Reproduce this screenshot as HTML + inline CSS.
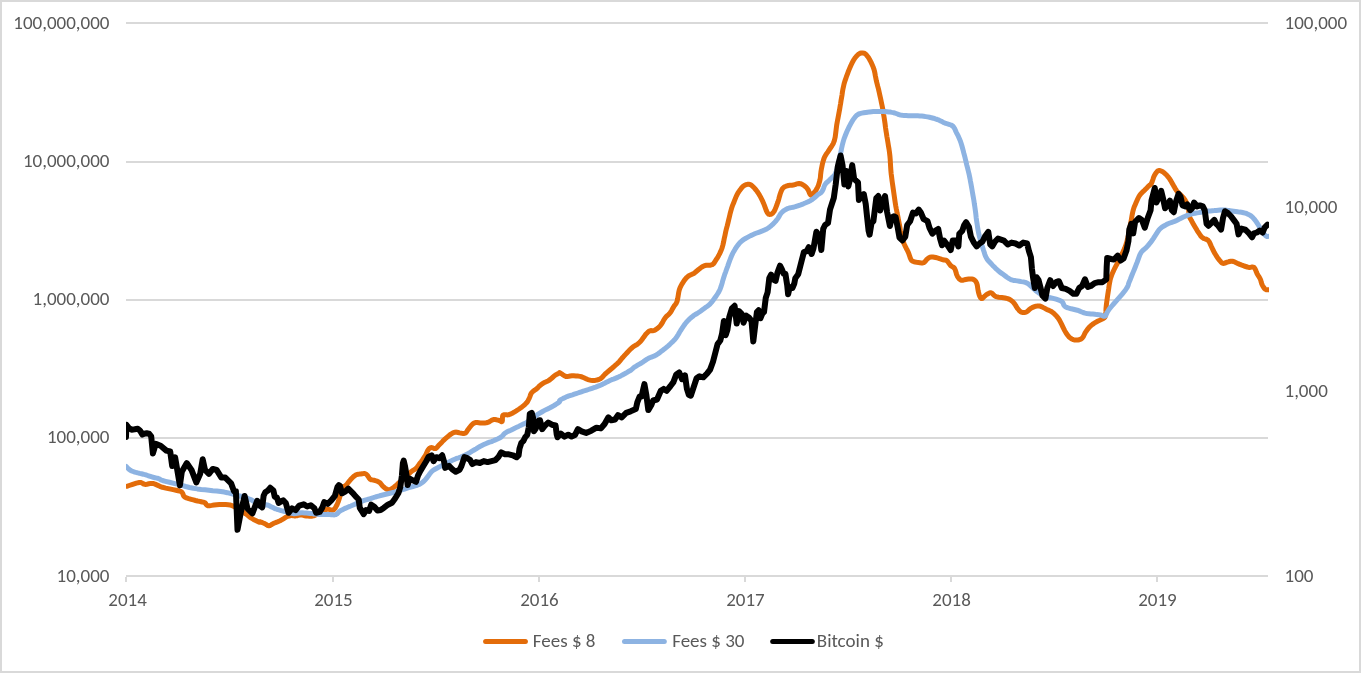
<!DOCTYPE html>
<html><head><meta charset="utf-8"><title>Chart</title>
<style>html,body{margin:0;padding:0;background:#fff;}body{width:1361px;height:673px;overflow:hidden;}svg{display:block;}</style>
</head><body>
<svg width="1361" height="673" viewBox="0 0 1361 673">
<rect x="0" y="0" width="1361" height="673" fill="#fff"/>
<rect x="1" y="1" width="1359" height="671" fill="none" stroke="#D9D9D9" stroke-width="2"/>
<rect x="126" y="22" width="1142" height="2" fill="#D9D9D9"/><rect x="126" y="161" width="1142" height="2" fill="#D9D9D9"/><rect x="126" y="299" width="1142" height="2" fill="#D9D9D9"/><rect x="126" y="437" width="1142" height="2" fill="#D9D9D9"/><rect x="126" y="575" width="1142" height="2" fill="#D9D9D9"/><rect x="125" y="577" width="2" height="5" fill="#D9D9D9"/><rect x="332" y="577" width="2" height="5" fill="#D9D9D9"/><rect x="538" y="577" width="2" height="5" fill="#D9D9D9"/><rect x="744" y="577" width="2" height="5" fill="#D9D9D9"/><rect x="950" y="577" width="2" height="5" fill="#D9D9D9"/><rect x="1156" y="577" width="2" height="5" fill="#D9D9D9"/>
<g font-family="Carlito, 'Liberation Sans', sans-serif" font-size="19" fill="#595959"><text x="109.5" y="28.6" text-anchor="end" textLength="96.16" lengthAdjust="spacingAndGlyphs">100,000,000</text><text x="109.5" y="166.9" text-anchor="end" textLength="86.53" lengthAdjust="spacingAndGlyphs">10,000,000</text><text x="109.5" y="304.7" text-anchor="end" textLength="76.89" lengthAdjust="spacingAndGlyphs">1,000,000</text><text x="109.5" y="443.1" text-anchor="end" textLength="62.53" lengthAdjust="spacingAndGlyphs">100,000</text><text x="109.5" y="581.8" text-anchor="end" textLength="52.89" lengthAdjust="spacingAndGlyphs">10,000</text><text x="1284.5" y="28.6" textLength="62.53" lengthAdjust="spacingAndGlyphs">100,000</text><text x="1284.5" y="212.8" textLength="52.89" lengthAdjust="spacingAndGlyphs">10,000</text><text x="1284.5" y="396.8" textLength="43.27" lengthAdjust="spacingAndGlyphs">1,000</text><text x="1284.5" y="581.8" textLength="28.89" lengthAdjust="spacingAndGlyphs">100</text><text x="127.6" y="606" text-anchor="middle" textLength="38.53" lengthAdjust="spacingAndGlyphs">2014</text><text x="333.5" y="606" text-anchor="middle" textLength="38.53" lengthAdjust="spacingAndGlyphs">2015</text><text x="539.4" y="606" text-anchor="middle" textLength="38.53" lengthAdjust="spacingAndGlyphs">2016</text><text x="745.4" y="606" text-anchor="middle" textLength="38.53" lengthAdjust="spacingAndGlyphs">2017</text><text x="951.6" y="606" text-anchor="middle" textLength="38.53" lengthAdjust="spacingAndGlyphs">2018</text><text x="1157.5" y="606" text-anchor="middle" textLength="38.53" lengthAdjust="spacingAndGlyphs">2019</text><line x1="485.6" y1="641.5" x2="525.4" y2="641.5" stroke="#E36C0A" stroke-width="5" stroke-linecap="round"/><text x="532.8" y="647" textLength="62.64" lengthAdjust="spacingAndGlyphs">Fees $ 8</text><line x1="624.5" y1="641.5" x2="664.3" y2="641.5" stroke="#8DB3E2" stroke-width="5" stroke-linecap="round"/><text x="672.2" y="647" textLength="72.28" lengthAdjust="spacingAndGlyphs">Fees $ 30</text><line x1="772.7" y1="641.5" x2="812.3" y2="641.5" stroke="#000000" stroke-width="5" stroke-linecap="round"/><text x="816.8" y="647" textLength="67" lengthAdjust="spacingAndGlyphs">Bitcoin $</text></g>
<defs><clipPath id="pa"><rect x="126" y="0" width="1143" height="673"/></clipPath></defs>
<g clip-path="url(#pa)"><polyline fill="none" stroke="#E36C0A" stroke-width="5" stroke-linejoin="round" stroke-linecap="round" points="126.8,486.3 129.2,485.5 132.7,484.3 136.4,483.1 139.3,482.5 141.2,482.6 142.5,483.3 143.7,484.0 145.1,484.4 146.9,484.2 148.8,483.8 150.8,483.4 152.9,483.4 155.1,484.1 157.3,485.1 159.8,486.3 162.5,487.3 165.8,488.1 169.5,488.9 173.1,489.6 176.0,490.2 178.1,490.7 179.6,491.0 180.7,491.4 181.8,492.1 182.6,493.2 183.1,494.5 183.6,495.8 184.7,497.0 186.5,497.9 188.7,498.6 191.2,499.3 193.4,499.9 195.5,500.5 197.6,501.0 199.6,501.4 201.2,501.8 202.5,502.1 203.4,502.2 204.2,502.4 205.0,502.8 205.7,503.5 206.1,504.4 206.8,505.2 207.9,505.7 209.6,505.7 211.7,505.4 214.1,505.0 216.6,504.7 219.4,504.6 222.6,504.5 225.6,504.5 228.2,504.7 230.0,504.9 231.2,505.3 232.4,505.8 234.0,506.6 236.2,507.8 238.7,509.3 241.3,510.9 243.7,512.4 245.8,513.9 247.7,515.4 249.5,516.9 251.4,518.2 253.5,519.4 255.7,520.5 257.7,521.5 259.1,522.1 259.7,522.3 259.8,522.0 259.7,521.7 260.0,521.7 260.9,522.0 262.0,522.4 263.3,523.0 264.5,523.5 265.6,524.1 266.7,524.9 267.8,525.5 268.9,525.7 270.0,525.5 271.1,524.9 272.3,524.1 273.4,523.5 274.5,523.0 275.6,522.6 276.7,522.2 277.8,521.7 278.9,521.2 280.1,520.7 281.2,520.1 282.3,519.5 283.4,518.8 284.5,518.1 285.6,517.4 286.7,516.8 287.8,516.3 288.9,516.0 290.1,515.7 291.2,515.5 292.3,515.5 293.3,515.7 294.4,515.9 295.6,515.9 296.9,515.7 298.2,515.4 299.6,515.1 301.0,515.0 302.3,515.1 303.5,515.4 304.8,515.7 306.3,515.9 307.9,516.1 309.7,516.3 311.5,516.3 313.5,515.9 315.7,514.9 318.1,513.6 320.4,512.1 322.4,511.0 324.0,510.3 325.3,509.7 326.5,509.4 327.7,509.2 329.1,509.4 330.5,509.8 331.9,510.2 333.1,510.1 334.1,509.4 335.0,508.4 335.8,507.0 336.6,505.6 337.3,504.1 338.0,502.4 338.6,500.6 339.3,498.5 340.0,496.0 340.6,493.1 341.3,490.3 342.1,488.1 343.0,486.9 344.1,486.2 345.1,485.8 346.2,485.0 347.2,483.8 348.2,482.5 349.3,481.1 350.4,479.8 351.6,478.5 352.9,477.2 354.3,476.0 355.6,475.1 356.9,474.5 358.2,474.3 359.5,474.1 360.8,474.0 362.1,473.8 363.5,473.6 364.8,473.6 366.0,474.0 367.1,475.0 368.2,476.5 369.2,478.1 370.2,479.2 371.2,479.7 372.2,479.9 373.2,480.1 374.3,480.3 375.5,480.7 376.9,481.1 378.2,481.7 379.5,482.4 380.6,483.4 381.6,484.7 382.6,486.0 383.7,487.1 384.9,488.0 386.2,488.9 387.6,489.5 388.9,489.7 390.2,489.5 391.5,488.9 392.8,488.0 394.1,487.1 395.4,486.1 396.7,484.9 398.0,483.6 399.3,482.4 400.6,481.4 401.8,480.4 403.1,479.4 404.5,478.2 406.0,476.7 407.7,475.1 409.3,473.4 410.8,472.0 412.2,470.9 413.5,470.1 414.8,469.3 416.0,468.3 417.1,467.2 418.0,465.9 419.0,464.6 420.1,463.1 421.4,461.4 422.8,459.4 424.1,457.4 425.3,455.6 426.2,453.9 427.0,452.1 427.7,450.6 428.4,449.4 429.2,448.6 429.9,448.0 430.7,447.7 431.6,447.6 432.5,447.8 433.5,448.2 434.5,448.6 435.5,448.6 436.4,448.0 437.3,447.1 438.2,445.9 439.3,444.7 440.6,443.4 442.1,441.9 443.6,440.3 445.1,438.9 446.6,437.6 448.1,436.3 449.5,435.1 450.9,434.1 452.2,433.3 453.4,432.7 454.5,432.3 455.7,432.1 456.9,432.2 458.1,432.5 459.4,432.9 460.6,433.1 461.9,433.3 463.1,433.4 464.3,433.4 465.4,433.1 466.2,432.4 466.9,431.4 467.5,430.3 468.3,429.2 469.2,428.0 470.2,426.7 471.2,425.4 472.2,424.4 473.1,423.7 474.0,423.1 474.9,422.7 476.0,422.5 477.3,422.5 478.8,422.7 480.3,422.9 481.8,423.0 483.2,423.0 484.7,423.0 486.2,422.8 487.6,422.5 489.1,421.9 490.5,421.0 491.9,420.1 493.4,419.6 494.9,419.6 496.5,419.8 498.0,420.2 499.2,420.5 500.2,420.9 501.0,421.4 501.6,421.7 502.1,421.5 502.4,420.4 502.4,418.7 502.5,417.0 502.7,415.7 503.1,415.1 503.6,414.8 504.3,414.8 505.0,414.7 505.8,414.7 506.7,414.8 507.8,414.9 508.9,414.7 510.2,414.2 511.7,413.5 513.2,412.7 514.7,411.8 516.2,410.9 517.6,410.0 519.1,409.0 520.5,408.0 522.0,406.9 523.6,405.6 525.1,404.3 526.3,403.1 527.3,401.9 528.0,400.7 528.6,399.5 529.2,398.3 529.7,397.1 530.2,395.8 530.6,394.6 531.1,393.5 531.8,392.6 532.5,391.9 533.3,391.2 534.0,390.6 534.7,390.1 535.5,389.6 536.2,389.1 536.9,388.6 537.6,387.9 538.3,387.2 539.0,386.4 539.8,385.7 540.7,385.0 541.6,384.3 542.6,383.6 543.7,382.9 545.0,382.2 546.5,381.6 548.0,380.9 549.5,380.0 551.0,378.8 552.5,377.5 554.0,376.2 555.3,375.1 556.5,374.4 557.5,373.9 558.4,373.5 559.1,373.2 559.4,372.9 559.4,372.7 559.5,372.6 560.0,372.8 561.1,373.5 562.6,374.6 564.3,375.7 565.9,376.4 567.3,376.5 568.8,376.3 570.2,376.0 571.9,375.8 573.8,375.8 576.0,375.9 578.2,376.1 580.2,376.4 582.1,377.0 583.9,377.8 585.6,378.6 587.3,379.3 588.9,379.8 590.3,380.2 591.7,380.4 593.3,380.5 595.1,380.4 596.9,380.0 598.8,379.5 600.4,378.8 601.7,377.8 602.8,376.7 603.9,375.4 605.2,374.0 606.8,372.6 608.7,371.0 610.5,369.5 612.3,368.0 613.9,366.6 615.5,365.2 617.0,363.9 618.3,362.7 619.3,361.6 620.1,360.6 620.9,359.6 621.8,358.5 622.9,357.3 624.0,356.0 625.3,354.6 626.6,353.2 628.0,351.7 629.6,350.1 631.1,348.6 632.5,347.3 633.8,346.4 635.0,345.7 636.2,345.0 637.3,344.3 638.4,343.4 639.4,342.5 640.4,341.5 641.4,340.4 642.4,339.0 643.5,337.4 644.6,335.9 645.6,334.5 646.6,333.4 647.6,332.4 648.6,331.5 649.7,330.9 650.8,330.6 652.0,330.7 653.2,330.7 654.5,330.3 655.9,329.5 657.5,328.4 659.0,327.1 660.4,325.6 661.7,323.8 662.9,321.7 664.0,319.6 665.2,317.8 666.4,316.4 667.6,315.3 668.8,314.3 669.9,313.1 670.9,311.7 671.8,310.2 672.6,308.6 673.5,307.1 674.4,305.7 675.4,304.5 676.3,303.1 677.1,301.2 677.7,298.6 678.2,295.6 678.7,292.5 679.3,289.8 680.1,287.6 681.1,285.6 682.1,283.8 683.2,282.1 684.3,280.4 685.5,278.9 686.7,277.5 688.0,276.3 689.4,275.4 690.9,274.7 692.4,274.1 693.8,273.4 695.0,272.5 696.2,271.5 697.4,270.5 698.6,269.5 699.9,268.5 701.3,267.4 702.8,266.5 704.4,265.7 706.3,265.3 708.4,265.3 710.5,265.2 712.2,264.7 713.4,263.8 714.3,262.7 715.1,261.3 716.0,259.9 717.0,258.4 718.0,256.7 719.0,254.9 719.9,253.1 720.7,251.4 721.4,249.7 722.1,247.8 722.8,245.4 723.5,242.4 724.2,238.8 725.0,235.2 725.7,231.8 726.4,228.8 727.2,225.9 727.9,223.1 728.6,220.2 729.3,217.2 730.0,214.2 730.8,211.2 731.5,208.6 732.2,206.4 733.0,204.4 733.7,202.7 734.4,200.9 735.1,199.1 735.8,197.4 736.5,195.8 737.3,194.2 738.2,192.6 739.2,191.1 740.2,189.7 741.2,188.4 742.1,187.3 743.0,186.4 744.0,185.7 745.0,185.1 746.1,184.7 747.4,184.3 748.7,184.3 749.9,184.5 751.1,185.1 752.3,186.0 753.5,187.1 754.7,188.4 755.9,189.9 757.2,191.5 758.4,193.3 759.5,195.1 760.5,196.9 761.5,198.8 762.5,200.8 763.4,202.9 764.4,205.4 765.4,208.1 766.3,210.6 767.2,212.5 768.0,213.6 768.6,214.2 769.3,214.4 770.1,214.4 771.0,214.2 772.0,213.7 773.0,212.8 774.0,211.5 775.0,209.6 776.0,207.1 777.0,204.5 777.9,201.9 778.7,199.4 779.4,196.7 780.1,194.3 780.8,192.2 781.5,190.6 782.1,189.3 782.8,188.3 783.7,187.4 784.8,186.7 786.0,186.2 787.3,185.8 788.5,185.5 789.7,185.3 790.8,185.3 792.0,185.2 793.3,185.1 794.7,184.7 796.2,184.1 797.7,183.7 799.1,183.5 800.4,183.7 801.7,184.2 802.9,184.8 804.0,185.5 805.0,186.3 806.0,187.2 806.9,188.2 807.8,189.3 808.6,190.8 809.3,192.6 810.0,194.1 810.7,195.1 811.4,195.3 812.1,194.9 812.8,194.1 813.6,193.2 814.5,192.1 815.6,190.7 816.6,189.1 817.5,187.4 818.3,185.7 818.9,183.8 819.5,181.8 820.0,179.7 820.4,177.4 820.6,174.8 820.9,172.2 821.3,169.5 821.9,166.6 822.5,163.6 823.3,160.6 824.2,157.9 825.3,155.7 826.4,153.9 827.7,152.1 829.0,150.1 830.4,148.0 831.9,145.8 833.3,143.4 834.4,140.5 835.2,137.0 835.7,133.1 836.2,129.0 836.7,125.0 837.4,121.1 838.2,117.1 838.9,113.2 839.6,109.6 840.1,106.4 840.6,103.6 841.0,100.8 841.5,98.0 842.0,95.1 842.4,92.1 842.9,89.2 843.5,86.4 844.1,83.8 844.8,81.4 845.6,79.1 846.4,76.7 847.3,74.3 848.2,71.8 849.2,69.4 850.2,67.1 851.1,65.0 852.1,62.9 853.1,61.0 854.1,59.3 855.2,57.7 856.4,56.2 857.7,54.9 858.9,53.9 860.1,53.3 861.4,53.0 862.6,52.9 863.8,53.1 864.8,53.6 865.8,54.3 866.7,55.2 867.6,56.4 868.6,57.8 869.6,59.5 870.6,61.4 871.5,63.2 872.3,65.0 873.1,66.9 873.8,68.8 874.4,70.9 874.9,73.1 875.3,75.5 875.8,78.0 876.3,80.6 877.0,83.3 877.7,86.2 878.5,89.1 879.2,92.2 879.9,95.5 880.7,99.0 881.4,102.4 882.1,105.7 882.7,108.7 883.2,111.5 883.6,114.3 884.1,117.3 884.6,120.6 885.1,124.1 885.5,127.5 886.0,130.8 886.5,133.8 886.9,136.6 887.4,139.4 887.9,142.4 888.4,145.6 889.0,149.0 889.5,152.5 889.9,155.9 890.2,159.4 890.4,163.0 890.6,166.4 890.8,169.5 891.0,172.0 891.2,174.1 891.5,176.1 891.8,178.6 892.2,181.7 892.7,185.1 893.2,188.7 893.7,192.2 894.2,195.7 894.7,199.2 895.2,202.6 895.7,205.7 896.2,208.4 896.7,210.8 897.1,213.1 897.6,215.4 898.1,217.8 898.5,220.1 899.0,222.5 899.5,225.0 900.0,227.9 900.4,230.9 900.9,233.9 901.4,236.6 902.0,238.8 902.7,240.7 903.5,242.5 904.3,244.3 905.2,246.2 906.2,248.2 907.3,250.2 908.2,252.1 909.0,254.2 909.7,256.3 910.4,258.3 911.1,259.8 911.8,260.7 912.4,261.2 913.1,261.4 914.0,261.7 915.3,262.0 916.8,262.3 918.4,262.5 919.8,262.7 920.9,262.9 921.9,263.0 922.8,263.0 923.7,262.7 924.7,262.0 925.6,260.9 926.5,259.7 927.5,258.8 928.4,258.1 929.3,257.5 930.3,257.1 931.4,256.9 932.7,256.9 934.2,257.2 935.7,257.5 937.2,257.9 938.7,258.3 940.2,258.8 941.7,259.4 943.0,259.8 944.1,260.0 945.1,260.1 946.0,260.3 946.9,260.8 947.9,261.8 948.8,263.1 949.7,264.4 950.7,265.6 951.7,266.3 952.7,266.9 953.7,267.5 954.6,268.5 955.4,270.2 956.0,272.3 956.6,274.5 957.4,276.3 958.3,277.7 959.2,278.8 960.2,279.7 961.3,280.2 962.6,280.3 964.1,279.9 965.6,279.5 967.1,279.2 968.6,279.0 970.1,278.9 971.6,278.9 972.9,279.2 974.0,279.8 975.0,280.5 975.9,281.6 976.7,283.1 977.3,285.2 977.7,287.8 978.1,290.5 978.6,292.8 979.2,294.8 979.9,296.6 980.6,297.9 981.5,298.6 982.6,298.3 983.8,297.1 985.1,295.8 986.4,294.7 987.6,294.0 988.8,293.3 990.0,292.8 991.2,292.8 992.2,293.4 993.2,294.5 994.3,295.6 996.0,296.6 998.6,297.2 1001.8,297.6 1005.0,298.0 1007.7,298.6 1009.6,299.4 1011.1,300.3 1012.3,301.3 1013.5,302.5 1014.6,303.9 1015.6,305.4 1016.5,306.9 1017.4,308.3 1018.4,309.5 1019.3,310.6 1020.3,311.5 1021.3,312.1 1022.4,312.5 1023.6,312.6 1024.9,312.5 1026.1,312.1 1027.3,311.4 1028.5,310.3 1029.7,309.2 1030.9,308.3 1032.1,307.6 1033.3,307.1 1034.5,306.6 1035.7,306.3 1036.9,306.1 1038.1,306.0 1039.3,306.0 1040.6,306.3 1042.0,306.8 1043.4,307.6 1044.9,308.4 1046.4,309.2 1047.9,309.9 1049.3,310.5 1050.8,311.2 1052.2,312.1 1053.7,313.3 1055.2,314.8 1056.7,316.3 1058.0,317.9 1059.1,319.5 1060.0,321.2 1060.9,322.9 1061.8,324.7 1062.7,326.6 1063.7,328.6 1064.7,330.6 1065.7,332.4 1066.8,334.1 1068.0,335.7 1069.2,337.1 1070.5,338.2 1071.9,339.0 1073.3,339.6 1074.8,340.0 1076.3,340.1 1077.8,340.0 1079.3,339.7 1080.8,339.1 1082.1,338.2 1083.2,336.8 1084.1,335.0 1085.0,333.1 1086.0,331.4 1087.1,329.9 1088.3,328.4 1089.5,327.0 1090.8,325.7 1092.2,324.6 1093.6,323.6 1095.1,322.7 1096.6,321.8 1098.1,321.0 1099.7,320.3 1101.2,319.6 1102.4,318.9 1103.4,318.4 1104.2,317.9 1104.8,317.3 1105.3,316.0 1105.7,314.0 1105.9,311.4 1106.0,308.4 1106.3,305.4 1106.7,302.2 1107.2,298.7 1107.7,295.1 1108.2,291.8 1108.7,288.7 1109.1,285.7 1109.6,282.8 1110.1,280.2 1110.7,277.9 1111.4,275.9 1112.1,274.0 1112.9,272.1 1113.8,270.2 1114.7,268.3 1115.7,266.4 1116.8,264.3 1118.0,262.0 1119.2,259.6 1120.4,257.1 1121.6,254.7 1122.7,252.5 1123.7,250.4 1124.6,248.3 1125.5,246.0 1126.3,243.6 1127.0,241.1 1127.7,238.4 1128.4,235.4 1129.1,231.7 1129.9,227.6 1130.6,223.5 1131.3,219.9 1131.8,217.0 1132.2,214.6 1132.7,212.3 1133.2,210.2 1133.8,208.1 1134.5,206.2 1135.3,204.4 1136.1,202.5 1137.0,200.5 1137.9,198.5 1138.9,196.5 1140.0,194.8 1141.2,193.4 1142.4,192.2 1143.6,191.1 1144.8,190.0 1145.8,188.9 1146.8,187.9 1147.7,187.0 1148.6,186.1 1149.4,185.4 1150.1,184.9 1150.8,184.2 1151.5,183.2 1152.2,181.5 1152.9,179.5 1153.6,177.3 1154.4,175.5 1155.3,173.9 1156.3,172.5 1157.3,171.3 1158.3,170.6 1159.3,170.4 1160.3,170.6 1161.2,171.1 1162.2,171.6 1163.2,172.1 1164.1,172.8 1165.0,173.6 1166.0,174.5 1167.0,175.5 1167.9,176.7 1168.9,177.9 1169.9,179.3 1170.9,180.9 1171.9,182.7 1172.9,184.5 1173.8,186.1 1174.6,187.4 1175.2,188.6 1175.9,189.7 1176.7,190.9 1177.8,192.1 1179.0,193.3 1180.3,194.5 1181.5,195.7 1182.6,196.9 1183.6,198.0 1184.5,199.2 1185.4,200.6 1186.2,202.1 1187.0,203.7 1187.7,205.4 1188.3,207.3 1188.6,209.4 1188.8,211.7 1188.9,214.0 1189.2,216.0 1189.8,217.6 1190.5,219.0 1191.3,220.3 1192.1,221.8 1193.0,223.4 1193.9,225.0 1194.9,226.7 1196.0,228.6 1197.3,230.8 1198.9,233.2 1200.4,235.5 1202.0,237.3 1203.6,238.4 1205.3,239.0 1206.9,239.5 1208.2,240.4 1209.2,241.7 1210.0,243.3 1210.7,245.0 1211.4,246.6 1212.2,248.2 1212.9,249.8 1213.7,251.3 1214.5,252.9 1215.5,254.5 1216.5,256.1 1217.5,257.7 1218.6,259.1 1219.6,260.4 1220.7,261.7 1221.7,262.7 1222.8,263.3 1223.8,263.4 1224.8,263.1 1225.9,262.6 1227.0,262.2 1228.2,261.9 1229.5,261.5 1230.9,261.2 1232.2,261.2 1233.5,261.5 1234.8,262.1 1236.1,262.7 1237.4,263.3 1238.7,263.8 1239.9,264.4 1241.2,264.9 1242.6,265.4 1244.1,266.0 1245.7,266.5 1247.3,267.0 1248.8,267.4 1250.2,267.4 1251.6,267.1 1252.9,267.0 1254.0,267.4 1254.9,268.6 1255.7,270.2 1256.4,272.1 1257.1,273.7 1257.9,275.1 1258.7,276.3 1259.5,277.6 1260.2,278.9 1260.8,280.4 1261.2,282.1 1261.7,283.7 1262.3,285.1 1263.0,286.4 1263.8,287.6 1264.6,288.6 1265.4,289.3 1266.3,289.7 1267.2,289.8 1268.0,289.8 1268.6,289.8"/><polyline fill="none" stroke="#8DB3E2" stroke-width="5" stroke-linejoin="round" stroke-linecap="round" points="126.0,466.3 126.5,466.8 127.1,467.4 127.8,468.2 128.5,468.8 129.0,469.3 129.6,469.7 130.1,470.1 130.7,470.5 131.4,470.9 132.2,471.2 133.1,471.5 134.0,471.8 134.9,472.1 135.9,472.4 136.8,472.6 137.8,472.9 138.7,473.1 139.7,473.4 140.6,473.6 141.5,473.8 142.4,474.0 143.3,474.2 144.1,474.4 145.0,474.6 145.9,474.9 146.7,475.2 147.6,475.5 148.5,475.8 149.4,476.1 150.3,476.4 151.2,476.7 152.1,477.0 153.0,477.2 153.9,477.5 154.8,477.7 155.7,477.9 156.6,478.1 157.5,478.3 158.4,478.5 159.3,478.8 159.8,479.1 160.2,479.5 160.8,479.9 162.5,480.5 165.5,481.3 169.5,482.3 173.8,483.4 178.0,484.4 181.9,485.4 185.7,486.5 189.5,487.5 193.4,488.3 197.3,488.9 201.2,489.4 205.0,489.8 208.9,490.2 212.8,490.7 216.8,491.1 220.7,491.6 224.3,492.1 227.4,492.7 230.1,493.4 232.8,494.1 235.9,495.0 239.7,496.0 243.8,497.2 247.9,498.5 251.4,499.9 254.1,501.6 256.3,503.6 258.2,505.4 260.0,506.5 261.6,506.6 263.0,506.0 264.2,505.2 265.3,504.8 266.3,504.8 267.1,504.9 267.9,505.2 268.9,505.6 270.1,506.2 271.5,506.9 272.9,507.6 274.3,508.3 275.6,508.8 276.8,509.3 278.2,509.7 279.6,510.1 281.2,510.6 283.0,511.0 284.9,511.5 286.7,511.9 288.5,512.4 290.3,513.0 292.1,513.4 293.9,513.7 295.7,513.6 297.5,513.3 299.2,513.0 301.0,512.8 302.8,512.8 304.5,512.9 306.3,513.0 308.1,513.2 309.9,513.4 311.7,513.6 313.5,513.9 315.3,514.1 317.1,514.3 318.9,514.4 320.6,514.5 322.4,514.6 324.2,514.6 326.0,514.6 327.8,514.6 329.5,514.6 331.2,514.7 332.8,514.8 334.4,514.9 335.8,514.6 337.0,513.9 337.9,513.0 338.9,511.9 340.0,511.0 341.4,510.2 343.0,509.4 344.6,508.6 346.2,507.9 347.7,507.2 349.2,506.6 350.8,506.0 352.5,505.3 354.4,504.4 356.5,503.4 358.7,502.5 360.8,501.6 362.9,500.9 364.9,500.2 367.0,499.6 369.1,499.0 371.2,498.3 373.3,497.7 375.4,497.0 377.5,496.4 379.6,495.8 381.7,495.3 383.7,494.8 385.8,494.3 387.9,493.8 390.0,493.3 392.0,492.8 394.1,492.3 396.2,491.7 398.2,491.0 400.3,490.4 402.4,489.7 404.5,489.1 406.6,488.4 408.7,487.7 410.8,487.1 412.9,486.5 415.1,485.9 417.2,485.3 419.1,484.5 420.8,483.6 422.3,482.5 423.8,481.3 425.3,479.8 426.8,477.9 428.4,475.8 429.9,473.6 431.6,471.7 433.4,470.2 435.4,469.0 437.3,468.0 439.3,466.9 441.2,465.9 443.2,464.9 445.2,463.9 447.1,463.0 449.0,462.0 451.0,461.0 452.9,460.1 454.8,459.2 456.7,458.4 458.6,457.8 460.6,457.1 462.5,456.3 464.4,455.4 466.3,454.5 468.3,453.5 470.2,452.4 472.1,451.2 474.1,450.0 476.1,448.8 478.0,447.6 479.9,446.5 481.9,445.5 483.8,444.6 485.7,443.7 487.6,442.9 489.5,442.2 491.5,441.6 493.4,440.8 495.4,439.9 497.5,439.0 499.5,438.0 501.2,437.0 502.3,436.0 503.1,435.1 503.9,434.1 505.0,433.1 506.7,432.1 508.7,431.1 510.8,430.2 512.8,429.2 514.7,428.2 516.7,427.3 518.6,426.4 520.5,425.4 522.4,424.5 524.4,423.6 526.3,422.6 528.2,421.5 530.1,420.2 532.0,418.7 534.0,417.1 535.9,415.7 537.8,414.4 539.8,413.2 541.8,412.0 543.7,410.9 545.6,409.9 547.6,408.9 549.5,408.0 551.4,407.0 553.5,405.8 555.7,404.5 557.7,403.2 559.1,402.2 559.7,401.5 559.6,401.1 559.5,400.7 560.0,400.2 561.3,399.4 563.2,398.4 565.2,397.5 567.1,396.6 568.9,395.9 570.7,395.3 572.5,394.8 574.3,394.2 576.1,393.6 577.9,393.0 579.6,392.4 581.4,391.8 583.2,391.2 584.9,390.7 586.7,390.1 588.5,389.5 590.3,388.9 592.1,388.3 593.9,387.7 595.7,387.1 597.5,386.4 599.3,385.7 601.0,384.9 602.8,384.1 604.6,383.2 606.3,382.3 608.1,381.4 609.9,380.5 611.7,379.7 613.5,379.1 615.3,378.4 617.1,377.6 618.9,376.8 620.7,375.9 622.4,375.0 624.2,374.0 626.1,373.0 628.0,371.8 629.8,370.8 631.3,369.8 632.2,369.1 632.8,368.5 633.4,367.9 634.3,367.2 635.8,366.3 637.6,365.2 639.5,364.1 641.4,363.0 643.2,361.8 644.9,360.6 646.7,359.4 648.5,358.3 650.3,357.5 652.1,356.8 653.9,356.2 655.7,355.3 657.5,354.2 659.3,352.9 661.0,351.6 662.8,350.2 664.6,348.8 666.4,347.3 668.2,345.8 669.9,344.3 671.5,342.8 673.0,341.4 674.5,339.8 675.9,338.2 677.1,336.4 678.3,334.5 679.4,332.5 680.6,330.5 682.0,328.4 683.5,326.2 685.0,324.0 686.6,322.0 688.4,320.1 690.3,318.3 692.2,316.8 693.7,315.5 694.7,314.8 695.4,314.4 696.1,314.1 697.1,313.5 698.6,312.5 700.5,311.2 702.4,309.8 704.2,308.5 705.8,307.3 707.4,306.2 708.8,305.1 710.2,303.8 711.5,302.4 712.6,301.0 713.7,299.5 714.9,297.8 716.2,296.0 717.5,294.0 718.8,291.9 720.0,289.5 721.0,286.7 722.0,283.5 722.9,280.2 723.8,277.2 724.7,274.4 725.7,271.8 726.6,269.2 727.6,266.6 728.5,263.9 729.5,261.2 730.5,258.5 731.5,256.0 732.6,253.6 733.8,251.4 735.1,249.2 736.3,247.3 737.5,245.6 738.7,244.1 739.9,242.7 741.2,241.5 742.5,240.4 743.9,239.4 745.4,238.5 747.0,237.6 748.8,236.6 750.7,235.6 752.7,234.7 754.7,233.8 756.7,233.0 758.7,232.3 760.6,231.6 762.4,230.9 764.0,230.2 765.4,229.6 766.8,228.9 768.2,228.0 769.7,226.9 771.2,225.7 772.7,224.4 774.0,223.1 775.1,221.9 776.1,220.8 777.0,219.6 777.9,218.3 778.8,216.9 779.7,215.3 780.6,213.8 781.7,212.5 783.0,211.3 784.4,210.3 785.9,209.4 787.5,208.6 789.2,208.0 791.1,207.6 793.1,207.3 795.3,206.7 797.8,205.8 800.7,204.8 803.4,203.8 805.8,202.8 807.6,202.0 809.0,201.4 810.3,200.7 811.6,199.9 813.1,198.8 814.6,197.6 816.0,196.3 817.4,195.1 818.7,194.1 820.0,193.3 821.2,192.4 822.2,191.2 823.0,189.6 823.7,187.8 824.3,186.0 825.1,184.4 826.0,183.2 827.0,182.3 828.0,181.5 829.0,180.6 830.0,179.6 831.0,178.6 832.0,177.7 832.9,176.7 833.7,175.9 834.4,175.2 835.0,174.3 835.7,172.9 836.4,171.1 837.1,169.0 837.8,166.4 838.6,163.2 839.5,158.9 840.5,153.9 841.5,148.7 842.5,144.3 843.4,140.9 844.3,138.1 845.3,135.5 846.4,132.8 847.7,129.8 849.2,126.7 850.7,123.8 852.2,121.2 853.6,119.0 855.0,117.2 856.4,115.6 858.0,114.4 859.8,113.6 861.7,113.1 863.7,112.8 865.7,112.5 867.6,112.2 869.5,111.9 871.5,111.7 873.4,111.5 875.3,111.4 877.3,111.4 879.3,111.4 881.2,111.5 883.2,111.6 885.2,111.6 887.1,111.7 888.9,111.9 890.5,112.1 891.9,112.4 893.3,112.6 894.7,113.0 896.1,113.5 897.5,114.0 898.9,114.6 900.5,115.0 902.3,115.3 904.2,115.5 906.2,115.6 908.2,115.7 910.1,115.7 912.0,115.7 914.0,115.7 915.9,115.7 917.8,115.8 919.8,115.9 921.8,116.1 923.7,116.3 925.6,116.6 927.6,116.9 929.5,117.3 931.4,117.7 933.4,118.2 935.4,118.9 937.3,119.5 939.1,120.2 940.6,120.9 942.0,121.6 943.4,122.4 944.9,123.1 946.8,123.7 948.9,124.3 951.0,125.0 952.7,126.0 953.9,127.4 954.9,129.1 955.6,130.9 956.5,132.8 957.5,134.7 958.5,136.7 959.4,138.7 960.3,140.9 961.1,143.2 961.8,145.5 962.5,148.0 963.2,150.6 963.9,153.4 964.7,156.3 965.4,159.3 966.1,162.2 966.8,165.1 967.6,168.1 968.3,171.0 969.0,173.8 969.5,176.3 970.0,178.6 970.4,180.9 970.9,183.4 971.4,186.2 971.9,189.1 972.4,192.1 972.9,195.0 973.4,197.8 973.9,200.6 974.3,203.5 974.8,206.6 975.3,210.1 975.8,213.9 976.2,217.8 976.7,221.3 977.2,224.5 977.6,227.5 978.1,230.3 978.6,232.9 979.1,235.1 979.5,236.9 980.0,238.6 980.6,240.6 981.3,242.9 982.0,245.4 982.8,247.9 983.5,250.2 984.2,252.3 984.8,254.3 985.5,256.2 986.4,258.0 987.4,259.6 988.6,261.0 989.8,262.3 991.2,263.8 992.7,265.4 994.4,267.1 996.2,268.9 998.0,270.5 999.9,272.1 1002.0,273.6 1004.0,275.1 1005.8,276.4 1007.3,277.5 1008.7,278.4 1010.1,279.2 1011.6,279.9 1013.4,280.4 1015.3,280.6 1017.3,280.9 1019.3,281.2 1021.3,281.6 1023.3,281.9 1025.3,282.4 1027.1,283.1 1028.7,284.1 1030.1,285.4 1031.5,286.7 1032.9,288.0 1034.3,289.2 1035.6,290.5 1037.0,291.7 1038.6,292.8 1040.4,293.9 1042.4,294.9 1044.4,295.9 1046.4,296.7 1048.3,297.3 1050.3,297.7 1052.2,298.1 1054.1,298.6 1056.1,299.2 1058.2,299.9 1060.2,300.6 1061.8,301.5 1062.8,302.6 1063.4,304.0 1063.9,305.3 1064.7,306.3 1065.7,307.0 1066.8,307.5 1068.1,307.9 1069.6,308.3 1071.3,308.8 1073.3,309.2 1075.3,309.7 1077.3,310.2 1079.2,310.9 1081.1,311.7 1083.1,312.5 1085.0,313.1 1086.9,313.5 1088.9,313.7 1090.9,313.9 1092.8,314.1 1094.8,314.3 1096.8,314.6 1098.8,314.8 1100.5,315.0 1101.9,315.4 1103.1,316.0 1104.2,316.3 1105.3,316.0 1106.0,315.1 1106.5,313.9 1107.4,312.0 1109.2,309.2 1112.7,305.0 1117.4,299.7 1122.0,294.3 1125.5,290.0 1127.3,287.2 1128.2,285.2 1128.6,283.6 1129.3,281.7 1130.3,279.4 1131.2,277.0 1132.2,274.5 1133.2,272.1 1134.2,269.7 1135.2,267.2 1136.1,264.8 1137.1,262.4 1138.0,259.9 1138.9,257.4 1139.8,254.9 1140.9,252.8 1142.2,251.1 1143.7,249.7 1145.3,248.4 1146.7,247.0 1148.0,245.6 1149.2,244.1 1150.4,242.7 1151.5,241.2 1152.5,239.8 1153.5,238.4 1154.4,236.9 1155.4,235.4 1156.5,233.7 1157.6,231.9 1158.8,230.2 1160.2,228.6 1161.9,227.2 1163.9,226.0 1166.0,224.8 1168.0,223.8 1169.9,223.0 1171.9,222.3 1173.8,221.7 1175.7,220.9 1177.6,220.0 1179.5,218.9 1181.5,217.9 1183.4,217.0 1185.3,216.2 1187.3,215.4 1189.3,214.7 1191.2,214.1 1193.1,213.6 1195.1,213.3 1197.0,212.9 1198.9,212.6 1200.8,212.2 1202.8,211.8 1204.7,211.5 1206.6,211.2 1208.5,211.0 1210.4,210.9 1212.4,210.7 1214.3,210.6 1216.2,210.4 1218.2,210.2 1220.2,210.0 1222.1,209.9 1224.0,210.0 1226.0,210.1 1227.9,210.4 1229.8,210.6 1231.7,210.9 1233.6,211.2 1235.6,211.5 1237.5,211.8 1239.5,212.1 1241.5,212.3 1243.5,212.7 1245.3,213.1 1246.9,213.7 1248.4,214.4 1249.8,215.2 1251.1,216.0 1252.2,216.9 1253.1,217.8 1254.0,218.8 1254.9,219.9 1255.9,221.2 1256.8,222.6 1257.8,224.1 1258.8,225.7 1259.8,227.4 1260.8,229.2 1261.7,231.0 1262.7,232.5 1263.7,233.8 1264.7,234.8 1265.7,235.7 1266.5,236.3 1267.2,236.6 1267.7,236.5 1268.2,236.4 1268.5,236.3"/><polyline fill="none" stroke="#000000" stroke-width="6" stroke-linejoin="round" stroke-linecap="round" points="126.0,437.0 126.4,424.8 128.9,428.0 131.6,429.7 134.7,429.3 137.8,428.8 140.0,430.6 142.3,434.6 144.1,433.7 146.7,433.3 149.0,433.7 151.2,436.4 152.9,453.5 155.7,443.8 160.6,445.7 166.4,450.6 170.2,451.5 172.2,466.0 175.1,457.3 179.9,485.4 181.8,471.8 186.7,463.1 191.5,469.9 196.3,482.5 200.2,473.8 202.7,459.3 205.0,469.9 208.9,473.8 212.8,468.9 216.6,469.9 221.4,477.6 225.3,477.6 231.1,483.4 234.0,491.2 235.9,491.2 237.5,529.8 240.8,512.4 244.6,496.0 247.5,508.6 252.4,513.4 257.2,500.8 260.0,505.6 262.2,507.4 263.6,495.8 265.3,492.3 268.0,490.5 270.2,487.8 273.4,490.5 274.7,496.7 276.9,497.6 278.7,503.0 283.2,500.3 285.8,503.0 288.5,512.8 292.1,508.3 295.6,510.1 299.2,505.6 303.7,504.3 307.2,506.5 310.8,505.2 314.4,508.3 316.1,512.8 319.7,511.9 322.4,507.4 324.2,502.1 327.7,503.9 331.3,500.3 334.9,495.8 337.5,486.9 338.9,485.2 340.0,486.0 342.1,493.3 345.2,491.7 348.3,488.6 352.5,492.8 355.6,496.4 358.7,499.5 359.8,507.9 361.8,511.0 363.7,514.1 366.0,510.0 369.1,511.0 371.2,504.7 374.3,506.8 377.5,510.5 380.6,510.0 383.7,507.9 387.9,504.7 392.0,502.7 395.1,498.5 398.3,493.3 400.3,487.1 401.9,475.6 402.9,463.1 403.7,460.6 405.0,466.2 406.6,475.6 407.6,485.0 409.7,478.7 412.8,480.3 416.0,481.8 418.0,475.6 420.1,471.4 423.2,466.2 426.4,461.0 428.5,457.0 431.6,455.3 433.5,461.1 436.4,457.2 439.3,458.2 442.2,455.3 444.2,462.1 445.1,467.9 449.0,465.9 452.9,469.8 455.7,471.7 459.6,469.8 461.5,465.9 464.4,457.2 467.3,458.2 470.2,460.1 472.2,464.0 476.0,462.1 479.9,463.0 483.8,461.1 487.6,462.1 491.5,461.1 495.4,460.1 498.3,457.2 501.2,452.4 505.0,454.3 508.9,454.3 512.8,455.3 516.6,457.2 518.6,455.3 519.5,448.6 521.4,442.8 523.4,440.8 525.3,437.0 527.2,435.0 528.8,427.3 529.8,413.8 531.7,412.8 533.0,417.6 534.0,431.2 535.9,428.3 538.8,420.5 540.0,420.3 542.2,429.2 544.5,426.2 548.2,422.5 551.9,424.7 555.6,425.5 556.7,434.4 557.5,437.3 560.8,433.6 564.5,436.6 568.2,434.7 571.6,436.6 574.9,435.1 577.9,429.2 581.6,431.4 586.1,432.9 591.3,430.7 596.5,427.7 600.9,428.4 604.6,424.0 608.4,417.3 611.3,420.3 615.0,419.5 618.0,415.1 621.7,417.3 626.2,412.8 630.6,411.3 635.8,409.1 637.3,402.4 639.6,396.5 641.5,396.6 644.4,384.1 646.3,394.7 648.3,410.1 651.2,405.3 653.1,400.5 657.0,399.5 660.8,390.8 663.7,388.9 666.6,390.8 670.5,386.0 673.4,382.1 676.3,374.4 679.2,372.5 682.1,379.2 685.0,375.4 686.9,388.9 688.8,394.7 690.8,395.7 693.7,387.0 696.6,378.3 699.5,376.3 703.3,377.3 707.2,373.4 710.1,369.6 713.0,361.8 717.6,344.1 720.3,340.5 722.1,333.4 723.9,320.9 725.7,335.2 727.4,329.8 729.2,317.4 731.9,308.4 734.6,305.8 736.7,323.6 739.0,311.1 741.7,313.8 743.5,322.7 746.2,315.6 748.8,317.4 751.5,320.9 753.3,341.4 755.1,326.3 756.9,312.0 758.6,310.2 760.4,318.3 762.2,313.8 764.0,312.0 764.9,304.9 765.8,297.7 767.6,292.4 769.3,278.1 771.1,274.6 773.8,279.9 775.6,280.8 777.4,272.8 780.0,265.7 781.8,269.2 783.6,273.7 785.4,273.7 787.2,285.3 788.1,294.2 789.8,287.1 792.5,287.9 794.3,283.5 795.3,278.2 798.2,274.3 801.9,259.8 803.9,252.1 806.8,251.1 808.7,247.2 811.6,254.0 813.5,248.2 816.4,231.8 818.4,234.7 820.3,242.4 821.3,250.1 823.2,228.9 825.1,225.0 828.0,223.1 830.0,209.6 831.9,203.8 833.8,198.0 835.7,184.4 837.7,167.1 838.6,163.2 840.6,155.5 842.5,165.1 844.4,184.4 846.4,170.9 848.3,186.4 850.2,178.6 852.2,165.1 854.1,178.6 856.0,180.6 858.0,182.5 858.9,199.9 860.9,196.0 863.8,194.1 865.7,203.8 866.7,213.4 868.6,230.8 869.6,234.7 871.5,223.1 873.4,221.2 876.3,198.0 878.3,196.0 880.2,210.5 882.1,203.8 885.0,196.0 887.0,211.5 889.9,226.0 891.8,217.3 893.7,216.3 895.7,217.3 897.6,227.0 899.5,237.6 902.4,240.5 905.3,236.6 907.2,225.0 910.1,221.2 913.0,212.5 915.9,213.4 918.8,209.6 920.8,212.5 923.7,219.2 927.5,221.2 929.5,227.9 932.4,233.7 935.3,230.8 938.2,228.9 940.1,238.6 942.0,245.3 944.0,240.5 946.9,244.3 950.7,250.1 952.7,240.5 956.4,240.6 958.4,246.4 959.3,233.8 962.2,230.9 964.2,225.1 966.1,222.2 969.0,227.1 970.9,236.7 973.8,242.5 976.7,246.4 979.6,243.5 982.5,241.5 985.4,235.7 988.3,231.9 990.2,244.4 992.2,246.4 995.1,241.5 998.0,238.6 1003.9,240.6 1007.7,244.5 1011.6,242.6 1015.5,243.5 1019.3,245.5 1023.2,242.6 1027.1,243.5 1029.0,251.3 1030.9,257.1 1031.9,268.6 1032.9,276.4 1034.8,288.0 1036.7,277.3 1038.6,280.2 1040.6,288.0 1042.5,295.7 1045.4,298.6 1047.3,288.0 1050.2,280.2 1053.1,286.0 1056.0,282.2 1058.9,281.2 1061.8,288.0 1065.7,288.9 1069.6,290.9 1073.4,293.8 1076.3,293.8 1079.2,288.0 1082.1,286.0 1085.0,279.3 1087.9,287.0 1090.8,286.0 1094.7,283.1 1098.6,282.2 1102.4,282.2 1106.3,279.3 1106.7,266.7 1107.2,258.0 1111.1,259.0 1113.9,259.5 1117.7,255.7 1120.6,260.5 1123.5,258.6 1126.4,250.8 1128.4,241.2 1129.3,229.6 1131.3,223.8 1133.2,233.4 1135.1,221.8 1139.0,218.0 1141.9,219.9 1144.8,227.6 1147.7,218.0 1150.6,210.2 1151.5,200.6 1153.5,192.9 1154.8,188.0 1156.4,202.5 1158.3,198.6 1161.2,190.9 1163.1,198.6 1165.1,208.3 1168.0,204.4 1169.9,200.6 1171.8,210.2 1173.8,212.2 1175.7,202.5 1178.6,193.8 1180.5,196.7 1182.5,205.4 1185.4,206.4 1187.3,204.4 1190.2,210.2 1192.1,208.3 1194.1,202.5 1197.0,206.4 1199.9,205.4 1202.8,206.4 1204.7,210.2 1206.6,223.8 1208.6,225.7 1211.4,222.8 1214.3,219.9 1216.3,223.8 1218.2,225.7 1221.1,229.6 1223.0,218.0 1225.0,211.2 1227.9,213.1 1230.8,216.0 1233.7,219.9 1236.6,223.8 1238.5,234.4 1241.4,228.6 1245.3,229.6 1249.1,233.4 1252.0,237.3 1254.0,233.4 1256.9,232.5 1259.8,230.5 1262.7,232.5 1264.6,227.6 1267.5,224.7"/></g>
</svg>
</body></html>
